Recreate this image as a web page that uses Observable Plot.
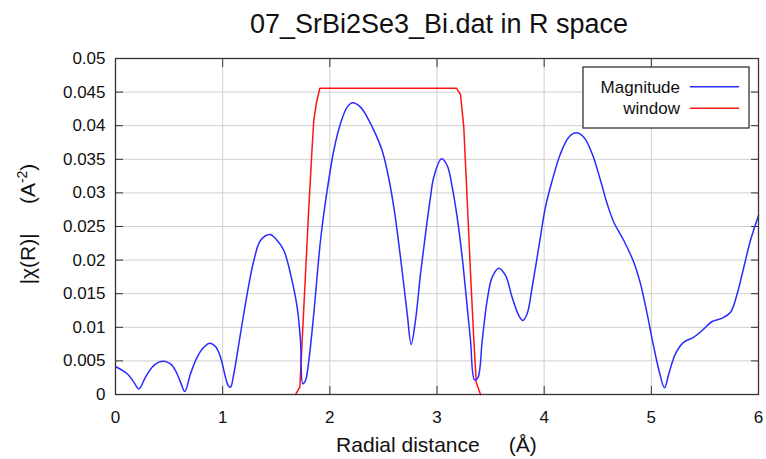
<!DOCTYPE html>
<html>
<head>
<meta charset="utf-8">
<script src="https://cdn.jsdelivr.net/npm/d3@7"></script>
<script src="https://cdn.jsdelivr.net/npm/@observablehq/plot@0.6"></script>
<style>
  body { margin: 0; background: #fff; }
</style>
</head>
<body>
<div id="chart"></div>
<script>
// ---- data ----
const titleText = "07_SrBi2Se3_Bi.dat in R space";
const xLabelText = "Radial distance\u00a0\u00a0\u00a0\u00a0 (Å)";

const magR = [0, 0.109, 0.171, 0.218, 0.280, 0.342, 0.404, 0.451, 0.513, 0.560, 0.607, 0.647,
  0.700, 0.762, 0.824, 0.880, 0.933, 0.980, 1.026, 1.051, 1.073, 1.104, 1.166, 1.229, 1.291,
  1.353, 1.440, 1.509, 1.571, 1.633, 1.695, 1.726, 1.748, 1.773, 1.804, 1.850, 1.913, 1.975,
  2.037, 2.099, 2.162, 2.214, 2.286, 2.348, 2.426, 2.488, 2.535, 2.597, 2.659, 2.722, 2.759,
  2.799, 2.846, 2.893, 2.939, 2.970, 3.042, 3.095, 3.142, 3.188, 3.235, 3.282, 3.313, 3.350,
  3.381, 3.422, 3.468, 3.515, 3.577, 3.639, 3.701, 3.763, 3.801, 3.841, 3.888, 3.950, 4.012,
  4.075, 4.152, 4.230, 4.299, 4.370, 4.448, 4.526, 4.588, 4.650, 4.743, 4.836, 4.899, 4.961,
  5.023, 5.079, 5.123, 5.163, 5.225, 5.303, 5.396, 5.474, 5.568, 5.661, 5.739, 5.801, 5.863,
  5.925, 6.000];
const magV = [0.00417, 0.00308, 0.00184, 0.00084, 0.00258, 0.00407, 0.00481, 0.00496, 0.00456,
  0.00357, 0.00184, 0.00045, 0.00308, 0.00556, 0.00704, 0.00764, 0.00714, 0.00556, 0.00258,
  0.00134, 0.00109, 0.00308, 0.00903, 0.01498, 0.01994, 0.02292, 0.02381, 0.02292, 0.02143,
  0.01796, 0.01300, 0.00804, 0.00159, 0.00208, 0.00506, 0.01201, 0.02292, 0.03036, 0.03631,
  0.04028, 0.04276, 0.04340, 0.04276, 0.04127, 0.03879, 0.03631, 0.03333, 0.02788, 0.02044,
  0.01201, 0.00744, 0.01101, 0.01796, 0.02391, 0.02937, 0.03234, 0.03507, 0.03408, 0.03085,
  0.02638, 0.02044, 0.01300, 0.00804, 0.00218, 0.00248, 0.00804, 0.01399, 0.01746, 0.01880,
  0.01771, 0.01448, 0.01176, 0.01101, 0.01201, 0.01597, 0.02192, 0.02788, 0.03185, 0.03582,
  0.03829, 0.03894, 0.03829, 0.03582, 0.03185, 0.02838, 0.02564, 0.02292, 0.01969, 0.01647,
  0.01201, 0.00704, 0.00308, 0.00099, 0.00308, 0.00605, 0.00779, 0.00853, 0.00952, 0.01086,
  0.01136, 0.01225, 0.01498, 0.01894, 0.02292, 0.02664];

const winR = [1.680, 1.720, 1.742, 1.773, 1.804, 1.835, 1.850, 1.876, 1.907, 3.182, 3.219,
  3.250, 3.282, 3.313, 3.344, 3.366, 3.406];
const winV = [0, 0.00109, 0.00804, 0.01796, 0.02788, 0.03680, 0.04077, 0.04350, 0.04558,
  0.04558, 0.04464, 0.03978, 0.02887, 0.01796, 0.00804, 0.00184, 0];

const xTicks = [0, 1, 2, 3, 4, 5, 6];
const xTickLabels = ["0", "1", "2", "3", "4", "5", "6"];
const yTicks = [0, 0.005, 0.01, 0.015, 0.02, 0.025, 0.03, 0.035, 0.04, 0.045, 0.05];
const yTickLabels = ["0", "0.005", "0.01", "0.015", "0.02", "0.025", "0.03", "0.035", "0.04", "0.045", "0.05"];

const seriesNames = ["Magnitude", "window"];
const seriesColors = ["#2a2aff", "#ff1414"];

// ---- build ----
const mag = magR.map((r, i) => ({r, v: magV[i]}));
const win = winR.map((r, i) => ({r, v: winV[i]}));

const axisColor = "#333";
const gridColor = "#cfcfcf";
const font = "'Liberation Sans', Arial, sans-serif";

const plot = Plot.plot({
  width: 766,
  height: 459,
  marginLeft: 115,
  marginRight: 8,
  marginTop: 58,
  marginBottom: 65,
  style: {fontFamily: font, fontSize: "17px", color: "#111", background: "#fff"},
  x: {domain: [0, 6], label: null},
  y: {domain: [0, 0.05], label: null},
  marks: [
    Plot.gridX(xTicks, {stroke: gridColor, strokeOpacity: 1}),
    Plot.gridY(yTicks, {stroke: gridColor, strokeOpacity: 1}),
    Plot.axisX(xTicks, {anchor: "bottom", tickSize: 0, tickPadding: 16, label: null,
      tickFormat: d => xTickLabels[xTicks.indexOf(d)]}),
    Plot.axisY(yTicks, {anchor: "left", tickSize: 0, tickPadding: 10, label: null,
      tickFormat: d => yTickLabels[yTicks.indexOf(d)]}),
    Plot.axisX(xTicks, {anchor: "bottom", tickSize: -8, tickFormat: () => "", label: null, stroke: axisColor}),
    Plot.axisX(xTicks, {anchor: "top", tickSize: -8, tickFormat: () => "", label: null, stroke: axisColor}),
    Plot.axisY(yTicks, {anchor: "left", tickSize: -8, tickFormat: () => "", label: null, stroke: axisColor}),
    Plot.axisY(yTicks, {anchor: "right", tickSize: -8, tickFormat: () => "", label: null, stroke: axisColor}),
    Plot.line(win, {x: "r", y: "v", stroke: seriesColors[1], strokeWidth: 1.5}),
    Plot.line(mag, {x: "r", y: "v", stroke: seriesColors[0], strokeWidth: 1.5, curve: "catmull-rom"}),
    Plot.frame({stroke: axisColor, strokeWidth: 1.3})
  ]
});

document.getElementById("chart").appendChild(plot);

const svg = d3.select(plot);

// title
svg.append("text")
  .attr("x", 439).attr("y", 33)
  .attr("text-anchor", "middle")
  .attr("font-family", font).attr("font-size", 27).attr("fill", "#111")
  .text(titleText);

// x label
svg.append("text")
  .attr("x", 436.5).attr("y", 452)
  .attr("text-anchor", "middle")
  .attr("font-family", font).attr("font-size", 21).attr("fill", "#111")
  .text(xLabelText);

// y label
const yl = svg.append("text")
  .attr("transform", "translate(35,224) rotate(-90)")
  .attr("text-anchor", "middle")
  .attr("font-family", font).attr("font-size", 21).attr("fill", "#111");
yl.append("tspan").text("|\u03c7(R)|\u00a0\u00a0\u00a0\u00a0 (A");
yl.append("tspan").attr("dy", -8).attr("font-size", 14).text("-2");
yl.append("tspan").attr("dy", 8).text(")");

// legend
const lg = svg.append("g");
lg.append("rect").attr("x", 583).attr("y", 67).attr("width", 166).attr("height", 61)
  .attr("fill", "#fff").attr("stroke", axisColor).attr("stroke-width", 1.3);
seriesNames.forEach((name, i) => {
  const cy = 86.7 + i * 21.6;
  lg.append("text").attr("x", 680).attr("y", cy + 6)
    .attr("text-anchor", "end").attr("font-family", font).attr("font-size", 17).attr("fill", "#111")
    .text(name);
  lg.append("line").attr("x1", 690).attr("x2", 739).attr("y1", cy).attr("y2", cy)
    .attr("stroke", seriesColors[i]).attr("stroke-width", 1.5);
});
</script>
</body>
</html>
